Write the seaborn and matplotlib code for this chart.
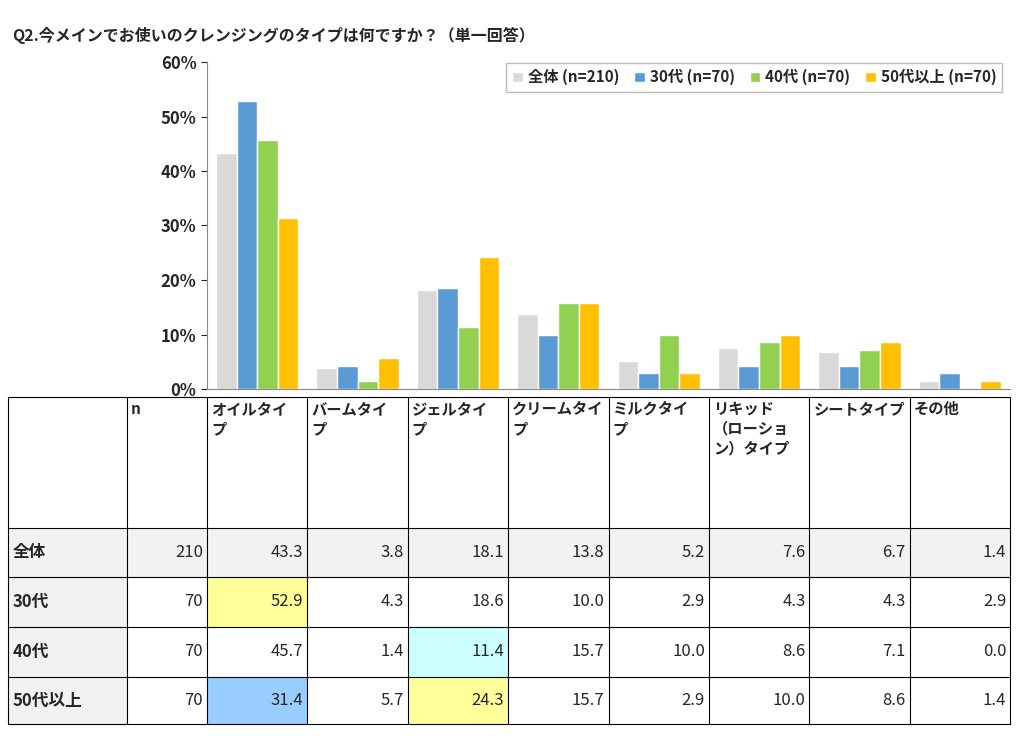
import pandas as pd
import numpy as np
import matplotlib.pyplot as plt
import seaborn as sns
from matplotlib.patches import Rectangle
from matplotlib.ticker import PercentFormatter

sns.set_style("white")
plt.rcParams['font.family'] = ['Noto Sans CJK JP', 'DejaVu Sans']

# data
categories = ["オイルタイプ", "バームタイプ", "ジェルタイプ", "クリームタイプ", "ミルクタイプ",
              "リキッド（ローション）タイプ", "シートタイプ", "その他"]
header_labels = ["オイルタイ\nプ", "バームタイ\nプ", "ジェルタイ\nプ", "クリームタイ\nプ", "ミルクタイ\nプ",
                 "リキッド\n（ローショ\nン）タイプ", "シートタイプ", "その他"]
groups = ["全体", "30代", "40代", "50代以上"]
group_n = [210, 70, 70, 70]
zentai = [43.3, 3.8, 18.1, 13.8, 5.2, 7.6, 6.7, 1.4]
age30 = [52.9, 4.3, 18.6, 10.0, 2.9, 4.3, 4.3, 2.9]
age40 = [45.7, 1.4, 11.4, 15.7, 10.0, 8.6, 7.1, 0.0]
age50 = [31.4, 5.7, 24.3, 15.7, 2.9, 10.0, 8.6, 1.4]
values = [zentai, age30, age40, age50]
colors = ["#D9D9D9", "#5B9BD5", "#92D050", "#FFC000"]
# highlighted cells: (row, col) -> colour
highlights = {(1, 0): "#FFFF99", (2, 2): "#CCFFFF", (3, 0): "#99CCFF", (3, 2): "#FFFF99"}

legend_names = [f"{g} (n={n})" for g, n in zip(groups, group_n)]
rows = []
for name, vals in zip(legend_names, values):
    for c, v in zip(categories, vals):
        rows.append({"cat": c, "grp": name, "val": v / 100})
df = pd.DataFrame(rows)

W, H = 1024, 736
fig = plt.figure(figsize=(W / 100, H / 100), dpi=100)

# bar chart
ax = fig.add_axes([207 / W, (H - 389) / H, (1010 - 207) / W, (389 - 62) / H])
sns.barplot(data=df, x="cat", y="val", hue="grp", palette=colors, width=0.82,
            saturation=1, ax=ax, legend=True)
ax.set_xlim(-0.5, len(categories) - 0.5)
ax.set_ylim(0, 0.6)
ax.yaxis.set_major_formatter(PercentFormatter(1.0, decimals=0))
ax.set_yticks(np.arange(0, 0.61, 0.1))
ax.set_xticks([])
ax.set_xlabel("")
ax.set_ylabel("")
ax.tick_params(axis='y', labelsize=12, length=4, left=True)
for lbl in ax.get_yticklabels():
    lbl.set_fontweight('bold')
for s in ["top", "right"]:
    ax.spines[s].set_visible(False)
ax.spines["left"].set_color("#888888")
ax.spines["bottom"].set_color("#888888")
leg = ax.legend(loc="upper right", ncol=4, frameon=True, fancybox=False,
                prop={'weight': 'bold', 'size': 11}, handlelength=0.7,
                handletextpad=0.3, columnspacing=1.0, bbox_to_anchor=(1.0, 1.02))
leg.get_frame().set_edgecolor("#AAAAAA")

fig.text(12 / W, 1 - 35 / H, "Q2.今メインでお使いのクレンジングのタイプは何ですか？（単一回答）",
         fontsize=11.5, fontweight='bold', va='center')

# table
tx = fig.add_axes([0, 0, 1, 1])
tx.set_xlim(0, W)
tx.set_ylim(H, 0)
tx.axis("off")
col_x = [8, 127, 207] + [207 + 100.4 * (i + 1) for i in range(8)]
row_y = [397, 528, 577, 627, 677, 724]
# backgrounds
tx.add_patch(Rectangle((col_x[0], row_y[1]), col_x[-1] - col_x[0], row_y[2] - row_y[1],
                       facecolor="#F2F2F2", edgecolor="none"))
for ri in range(1, 5):
    tx.add_patch(Rectangle((col_x[0], row_y[ri]), col_x[1] - col_x[0], row_y[ri + 1] - row_y[ri],
                           facecolor="#F2F2F2", edgecolor="none"))
for (r, c), colr in highlights.items():
    tx.add_patch(Rectangle((col_x[c + 2], row_y[r + 1]), col_x[c + 3] - col_x[c + 2],
                           row_y[r + 2] - row_y[r + 1], facecolor=colr, edgecolor="none"))
for x in col_x:
    tx.plot([x, x], [row_y[0], row_y[-1]], color="black", lw=0.8)
for y in row_y:
    tx.plot([col_x[0], col_x[-1]], [y, y], color="black", lw=0.8)

tx.text(col_x[1] + 4, row_y[0] + 4, "n", fontsize=11, fontweight='bold', va='top')
for i, lab in enumerate(header_labels):
    tx.text(col_x[i + 2] + 4, row_y[0] + 4, lab, fontsize=11, fontweight='bold',
            va='top', linespacing=1.3)
for r, (g, n, vals) in enumerate(zip(groups, group_n, values)):
    yc = (row_y[r + 1] + row_y[r + 2]) / 2
    tx.text(col_x[0] + 5, yc, g, fontsize=12, fontweight='bold', va='center')
    tx.text(col_x[2] - 4, yc, str(n), fontsize=12, va='center', ha='right')
    for c, v in enumerate(vals):
        tx.text(col_x[c + 3] - 4, yc, f"{v:.1f}", fontsize=12, va='center', ha='right')

fig.savefig("out.png", dpi=100)
